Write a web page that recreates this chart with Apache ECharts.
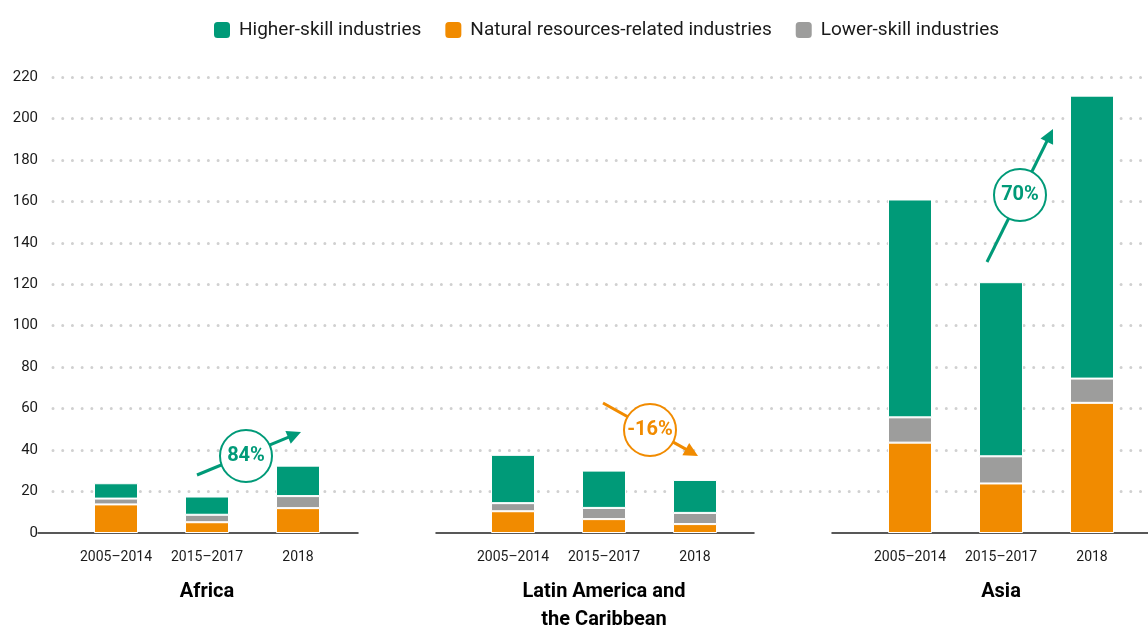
<!DOCTYPE html>
<html>
<head>
<meta charset="utf-8">
<script src="https://cdn.jsdelivr.net/npm/echarts@6/dist/echarts.min.js"></script>
<style>
html,body{margin:0;padding:0;background:#fff;}
#chart{width:1148px;height:628px;}
</style>
</head>
<body>
<div id="chart"></div>
<script>
// ---- data ----
const categories = ['2005–2014', '2015–2017', '2018'];
const regions = ['Africa', 'Latin America and\nthe Caribbean', 'Asia'];
const seriesNames = ['Higher-skill industries', 'Natural resources-related industries', 'Lower-skill industries'];
// values per region, per period
const naturalResources = [[13.8, 5.2, 12.0], [10.5, 6.7, 4.3], [43.6, 23.9, 62.8]];
const lowerSkill = [[2.8, 3.6, 5.8], [3.9, 5.4, 5.4], [12.2, 13.1, 11.7]];
const higherSkill = [[7.4, 8.8, 14.7], [23.3, 18.0, 15.9], [105.1, 84.0, 136.5]];
const changeLabels = ['84%', '-16%', '70%'];
const yTicks = { min: 0, max: 220, interval: 20 };

// ---- style ----
const GREEN = '#009a78';
const ORANGE = '#f18b00';
const GRAY = '#9d9d9c';
const FONT = "'Roboto', 'Liberation Sans', sans-serif";
const TXT = '#1a1a1a';

const chart = echarts.init(document.getElementById('chart'), null, { renderer: 'canvas' });

const gTop = 77, gBottom = 95;
const barGrids = [70.5, 467.5, 864.5];
const baseGrids = [[38, 358], [436, 754], [832, 1148]];

const grids = [{ left: 53, right: 0, top: gTop, bottom: gBottom, outerBoundsMode: 'none', containLabel: false }];
const xAxes = [{ gridIndex: 0, type: 'value', min: 0, max: 1, show: false }];
const yAxes = [{
  gridIndex: 0, type: 'value', min: yTicks.min, max: yTicks.max, interval: yTicks.interval,
  axisLine: { show: false }, axisTick: { show: false },
  axisLabel: { fontSize: 15, color: TXT, margin: 15, fontFamily: FONT },
  splitLine: { show: true, showMinLine: false, lineStyle: { color: '#d0d0d0', width: 3, type: [0.01, 9.7], cap: 'round' } }
}];
const series = [];

regions.forEach((r, i) => {
  const gi = grids.length;
  grids.push({ left: barGrids[i], width: 273, top: gTop, bottom: gBottom, outerBoundsMode: 'none', containLabel: false });
  xAxes.push({
    gridIndex: gi, type: 'category', data: categories,
    axisLine: { show: false }, axisTick: { show: false },
    axisLabel: { fontSize: 14, color: TXT, margin: 17, interval: 0, hideOverlap: false, fontFamily: FONT },
    name: r, nameLocation: 'middle', nameGap: 45,
    nameTextStyle: { fontSize: 20, fontWeight: 'bold', color: '#000', lineHeight: 28, fontFamily: FONT }
  });
  yAxes.push({ gridIndex: gi, type: 'value', min: yTicks.min, max: yTicks.max, interval: yTicks.interval, show: false });
  const common = { type: 'bar', xAxisIndex: gi, yAxisIndex: gi, stack: 'r' + i, barWidth: 44 };
  series.push(Object.assign({}, common, { name: seriesNames[1], data: naturalResources[i], itemStyle: { color: ORANGE, borderColor: '#fff', borderWidth: 1 } }));
  series.push(Object.assign({}, common, { name: seriesNames[2], data: lowerSkill[i], itemStyle: { color: GRAY, borderColor: '#fff', borderWidth: 1 } }));
  series.push(Object.assign({}, common, { name: seriesNames[0], data: higherSkill[i], itemStyle: { color: GREEN, borderColor: '#fff', borderWidth: 1 } }));
  const bi = grids.length;
  grids.push({ left: baseGrids[i][0], width: baseGrids[i][1] - baseGrids[i][0], top: gTop, bottom: gBottom, outerBoundsMode: 'none', containLabel: false });
  xAxes.push({ gridIndex: bi, type: 'value', min: 0, max: 1,
    axisLine: { show: true, lineStyle: { color: '#222', width: 1.5 } },
    axisTick: { show: false }, axisLabel: { show: false }, splitLine: { show: false } });
  yAxes.push({ gridIndex: bi, type: 'value', min: 0, max: 1, show: false });
});

// annotations (arrow + circle + label)
const annos = [
  { from: [197, 475], to: [301, 432], c: [246, 456], color: GREEN },
  { from: [603, 403], to: [698, 456], c: [650, 430], color: ORANGE },
  { from: [987, 262], to: [1053, 129], c: [1020, 195], color: GREEN }
];
const graphics = [];
annos.forEach((a, i) => {
  const dx = a.to[0] - a.from[0], dy = a.to[1] - a.from[1];
  const L = Math.sqrt(dx * dx + dy * dy);
  const ux = dx / L, uy = dy / L, px = -uy, py = ux;
  const hl = 14, hw = 7;
  const bx = a.to[0] - ux * hl, by = a.to[1] - uy * hl;
  graphics.push({ type: 'line', z: 100, shape: { x1: a.from[0], y1: a.from[1], x2: bx + ux * 2, y2: by + uy * 2 },
    style: { stroke: a.color, lineWidth: 3 } });
  graphics.push({ type: 'polygon', z: 100, shape: { points: [a.to, [bx + px * hw, by + py * hw], [bx - px * hw, by - py * hw]] },
    style: { fill: a.color } });
  graphics.push({ type: 'circle', z: 101, shape: { cx: a.c[0], cy: a.c[1], r: 26 },
    style: { fill: '#fff', stroke: a.color, lineWidth: 2 } });
  graphics.push({ type: 'text', z: 102, x: a.c[0], y: a.c[1],
    style: { text: changeLabels[i], fill: a.color, font: 'bold 20px ' + FONT, align: 'center', verticalAlign: 'middle' } });
});

chart.setOption({
  animation: false,
  legend: {
    data: seriesNames, left: 207, top: 15, icon: 'roundRect', itemWidth: 18, itemHeight: 18, itemGap: 22,
    textStyle: { fontSize: 19, color: TXT, fontFamily: FONT, padding: [0, 0, 0, 3] },
    selectedMode: false
  },
  grid: grids, xAxis: xAxes, yAxis: yAxes, series: series, graphic: graphics
});
</script>
</body>
</html>
